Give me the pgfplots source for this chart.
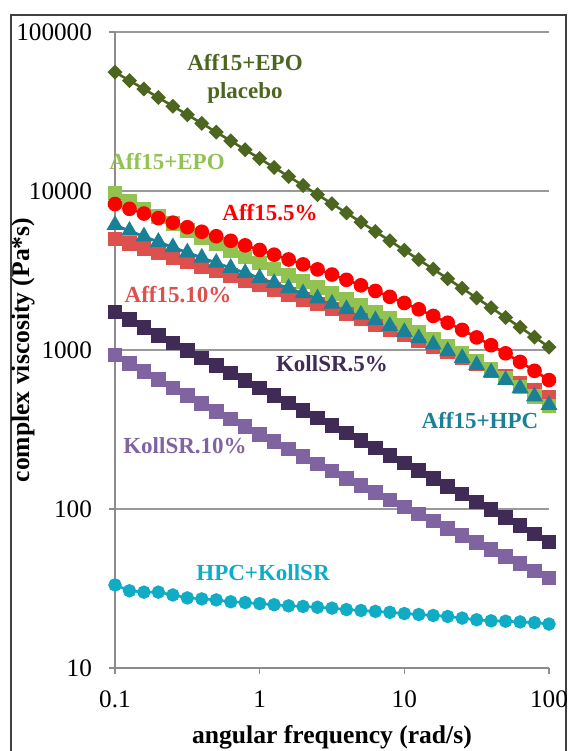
\documentclass[border=0pt]{standalone}
\usepackage{fontspec}
\setmainfont{Liberation Serif}
\usepackage{pgfplots}
\usepackage{pgfplotstable}
\pgfplotsset{compat=1.18}

\definecolor{placebo}{RGB}{76,102,32}
\definecolor{epo}{RGB}{146,194,80}
\definecolor{affa}{RGB}{255,0,0}
\definecolor{affb}{RGB}{220,80,77}
\definecolor{hpc}{RGB}{26,128,152}
\definecolor{kolla}{RGB}{63,43,86}
\definecolor{kollb}{RGB}{128,100,162}
\definecolor{hpckoll}{RGB}{16,172,198}

% angular frequency (rad/s) vs complex viscosity (Pa*s)
\pgfplotstableread{
w       placebo epo   affa  affb  hpc   kolla kollb hpckoll
0.1     55950   9705  8279  4989  6110  1734  931   33.3
0.1259  49520   8628  7727  4666  5620  1549  825   30.6
0.1585  43810   7705  7219  4364  5183  1385  732   30.0
0.1995  38710   6912  6754  4084  4789  1239  650   30.0
0.2512  34180   6225  6322  3823  4431  1109  578   28.8
0.3162  30190   5624  5918  3578  4106  994   516   27.6
0.3981  26630   5099  5543  3350  3809  891   460   27.2
0.5012  23470   4634  5193  3135  3536  799   411   26.8
0.6310  20660   4223  4863  2932  3285  716   368   26.1
0.7943  18190   3854  4551  2743  3053  643   329   25.8
1       16000   3524  4256  2565  2837  577   295   25.4
1.259   14060   3225  3977  2396  2638  518   265   25.0
1.585   12340   2954  3710  2237  2450  465   238   24.6
1.995   10830   2707  3456  2087  2274  417   214   24.4
2.512   9493    2480  3214  1945  2109  374   192   24.1
3.162   8316    2272  2983  1810  1954  336   173   23.8
3.981   7279    2079  2763  1684  1807  301   156   23.3
5.012   6369    1900  2552  1564  1669  270   140   23.0
6.310   5566    1734  2352  1451  1538  242   127   22.7
7.943   4862    1580  2160  1343  1415  217   114   22.4
10      4244    1436  1977  1242  1297  195   103   22.0
12.59   3701    1301  1803  1146  1187  174   93.0  21.7
15.85   3225    1175  1639  1056  1082  156   83.9  21.4
19.95   2808    1058  1484  971   984   139   75.7  21.1
25.12   2444    948   1338  891   891   124   68.4  20.6
31.62   2125    846   1200  815   804   111   61.7  20.1
39.81   1846    752   1072  745   723   99.0  55.7  19.8
50.12   1603    665   953   679   647   88.2  50.2  19.7
63.10   1391    584   842   617   576   78.5  45.3  19.5
79.43   1206    511   740   559   511   69.8  40.8  19.3
100     1044    444   647   506   451   61.9  36.8  18.9
}\visc

\begin{document}
\begin{tikzpicture}
\useasboundingbox (0,0) rectangle (284pt,-375.5pt);
\draw[line width=0.75pt, black!75] (5.5pt,-380pt) -- (5.5pt,-7.5pt) -- (283pt,-7.5pt) -- (283pt,-380pt);

\begin{axis}[
    at={(57.5pt,-334pt)}, anchor=south west,
    scale only axis, width=217pt, height=318pt,
    xmode=log, ymode=log,
    xmin=0.1, xmax=100, ymin=10, ymax=100000,
    axis lines*=left,
    axis line style={draw=gray!90, line width=0.6pt},
    ymajorgrids, grid style={gray!80, line width=0.6pt},
    xminorticks=false, yminorticks=false,
    tick align=outside, major tick length=3pt,
    tick style={gray!90, line width=0.6pt},
    xtick={0.1,1,10,100}, xticklabels={0.1,1,10,100},
    ytick={10,100,1000,10000,100000},
    yticklabels={10,100,1000,10000,100000},
    ticklabel style={font=\fontsize{12.6}{14}\selectfont},
    xticklabel style={yshift=-5pt},
    yticklabel style={xshift=-5pt},
    /pgf/number format/assume math mode=true,
    clip=false,
    xlabel={angular frequency (rad/s)},
    ylabel={complex viscosity (Pa*s)},
    label style={font=\bfseries\fontsize{12.8}{15}\selectfont},
    xlabel style={at={(axis description cs:0.5,-0.1085)}, anchor=center},
    ylabel style={at={(axis description cs:-0.212,0.5)}, anchor=center},
    every axis plot/.append style={line width=1.3pt, mark options={solid}},
]
\addplot[placebo, mark=square*, mark size=2pt, mark options={rotate=45}] table[x=w, y=placebo] {\visc};
\addplot[affb, mark=square*, mark size=3pt] table[x=w, y=affb] {\visc};
\addplot[epo, mark=square*, mark size=3pt] table[x=w, y=epo] {\visc};
\addplot[affa, mark=*, mark size=3pt] table[x=w, y=affa] {\visc};
\addplot[hpc, mark=triangle*, mark size=3.6pt] table[x=w, y=hpc] {\visc};
\addplot[kolla, mark=square*, mark size=3pt] table[x=w, y=kolla] {\visc};
\addplot[kollb, mark=square*, mark size=3pt] table[x=w, y=kollb] {\visc};
\addplot[hpckoll, mark=*, mark size=2.7pt] table[x=w, y=hpckoll] {\visc};
\end{axis}

\begin{scope}[every node/.style={font=\bfseries\fontsize{11.5}{13}\selectfont, anchor=center}]
\node[text=placebo] at (122.5pt,-31.5pt) {Aff15+EPO};
\node[text=placebo] at (122.5pt,-46.5pt) {placebo};
\node[text=epo] at (83.5pt,-81pt) {Aff15+EPO};
\node[text=affa] at (135pt,-106.5pt) {Aff15.5\%};
\node[text=affb] at (89pt,-147.5pt) {Aff15.10\%};
\node[text=kolla] at (166pt,-182pt) {KollSR.5\%};
\node[text=hpc] at (240pt,-210.5pt) {Aff15+HPC};
\node[text=kollb] at (92.5pt,-223pt) {KollSR.10\%};
\node[text=hpckoll] at (131.5pt,-286.5pt) {HPC+KollSR};
\end{scope}
\end{tikzpicture}
\end{document}
